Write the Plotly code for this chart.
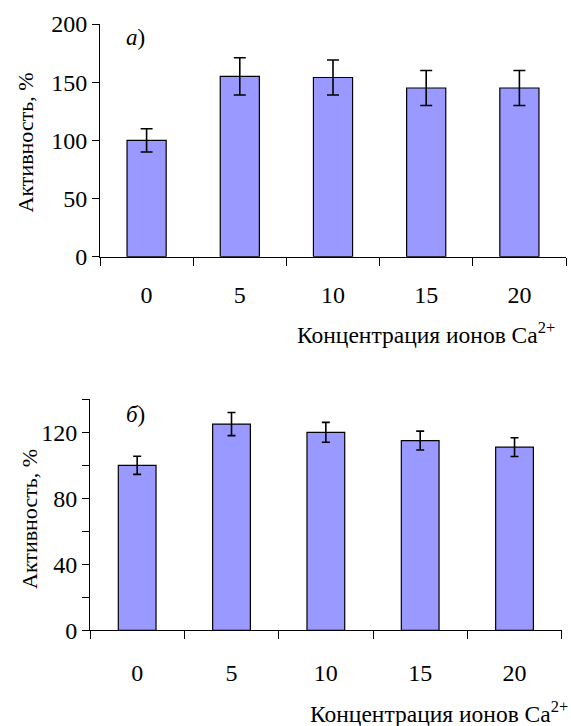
import plotly.graph_objects as go

categories = ["0", "5", "10", "15", "20"]
vals_a = [100, 155, 154, 145, 145]
err_a = [10, 16, 15, 15, 15]
vals_b = [100, 125, 120, 115, 111]
err_b = [5.5, 7, 6, 5.7, 5.7]
yticks_a = [0, 50, 100, 150, 200]
yticks_b = [0, 20, 40, 60, 80, 100, 120, 140]
yticklabels_b = ["0", "", "40", "", "80", "", "120", ""]

FONT = "Liberation Serif"
BAR = "#9999FF"
W, H = 571, 726

fig = go.Figure()
fig.add_trace(go.Bar(x=categories, y=vals_a, xaxis="x", yaxis="y",
                     marker=dict(color=BAR, line=dict(color="black", width=1.2)),
                     error_y=dict(type="data", array=err_a, color="black", thickness=1.6, width=6),
                     width=0.42, showlegend=False))
fig.add_trace(go.Bar(x=categories, y=vals_b, xaxis="x2", yaxis="y2",
                     marker=dict(color=BAR, line=dict(color="black", width=1.2)),
                     error_y=dict(type="data", array=err_b, color="black", thickness=1.6, width=4),
                     width=0.4, showlegend=False))

axis_common = dict(showline=True, linecolor="black", linewidth=1, ticks="outside",
                   tickcolor="black", tickwidth=1, showgrid=False, zeroline=False,
                   automargin=False,
                   tickfont=dict(family=FONT, size=24, color="black"))

fig.update_layout(
    width=W, height=H, margin=dict(l=0, r=0, t=0, b=0, autoexpand=False),
    plot_bgcolor="white", paper_bgcolor="white", bargap=0.58,
    font=dict(family=FONT, color="black"),
    xaxis=dict(domain=[100 / W, 566 / W], anchor="y", type="category", range=[-0.5, 4.5],
               tickson="boundaries", ticklen=8, ticklabelstandoff=16, **axis_common),
    yaxis=dict(domain=[1 - 256.7 / H, 1 - 24 / H], anchor="x", range=[0, 200],
               tickvals=yticks_a, ticklen=7, **axis_common),
    xaxis2=dict(domain=[90 / W, 561.7 / W], anchor="y2", type="category", range=[-0.5, 4.5],
                tickson="boundaries", ticklen=8, ticklabelstandoff=21, **axis_common),
    yaxis2=dict(domain=[1 - 630.3 / H, 1 - 399.3 / H], anchor="x2", range=[0, 140],
                tickvals=yticks_b, ticktext=yticklabels_b, ticklen=7, **axis_common),
)

yfont = dict(family=FONT, size=22, color="black")
xfont = dict(family=FONT, size=23.5, color="black")
pfont = dict(family=FONT, size=23, color="black")
ann = [
    dict(text="Активность, %", x=25 / W, y=1 - 142.5 / H, textangle=-90, font=yfont),
    dict(text="Активность, %", x=29 / W, y=1 - 519 / H, textangle=-90, font=yfont),
    dict(text="Концентрация ионов Ca<sup>2+</sup>", x=557 / W, y=1 - 333 / H, xanchor="right", font=xfont),
    dict(text="Концентрация ионов Ca<sup>2+</sup>", x=570 / W, y=1 - 712 / H, xanchor="right", font=xfont),
    dict(text="<i>а</i>)", x=124 / W, y=1 - 37 / H, xanchor="left", font=pfont),
    dict(text="<i>б</i>)", x=124 / W, y=1 - 415 / H, xanchor="left", font=pfont),
]
for a in ann:
    base = dict(xref="paper", yref="paper", showarrow=False, yanchor="middle")
    if "xanchor" not in a:
        base["xanchor"] = "center"
    base.update(a)
    fig.add_annotation(**base)

fig.write_html("out.html")
